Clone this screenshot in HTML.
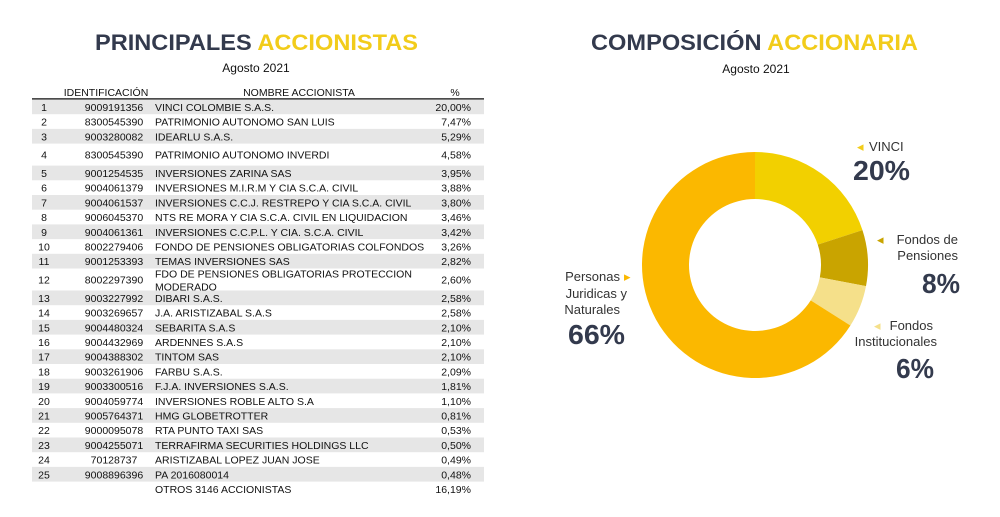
<!DOCTYPE html>
<html><head><meta charset="utf-8"><style>
body{margin:0;background:#fff;width:1000px;height:517px;overflow:hidden;font-family:"Liberation Sans",Arial,sans-serif}
svg{display:block}
</style></head><body>
<svg id="root" width="1000" height="517" viewBox="0 0 1000 517">
<g>
<text x="95" y="50" textLength="323" lengthAdjust="spacingAndGlyphs" font-size="22" font-weight="bold" fill="#333a4d">PRINCIPALES <tspan fill="#f2cc1a">ACCIONISTAS</tspan></text>
<text x="256" y="72" text-anchor="middle" font-size="12" fill="#111">Agosto 2021</text>
</g>
<g>
<text x="591" y="50" textLength="327" lengthAdjust="spacingAndGlyphs" font-size="22" font-weight="bold" fill="#333a4d">COMPOSICIÓN <tspan fill="#f2cc1a">ACCIONARIA</tspan></text>
<text x="756" y="73" text-anchor="middle" font-size="12" fill="#111">Agosto 2021</text>
</g>
<g id="table">
<text x="106" y="96" text-anchor="middle" font-size="10.5" fill="#111">IDENTIFICACIÓN</text>
<text x="299" y="96" text-anchor="middle" font-size="10.5" fill="#111">NOMBRE ACCIONISTA</text>
<text x="455" y="96" text-anchor="middle" font-size="10.5" fill="#111">%</text>
<line x1="32" y1="99" x2="484" y2="99" stroke="#111" stroke-width="1.5"/>
</g>
<g id="donut"></g>
<g fill="#333a4d">
<text x="857" y="151" font-size="13" fill="#f2cc1a">◂</text>
<text x="869" y="151" font-size="13" fill="#333">VINCI</text>
<text x="853" y="180" font-size="28" font-weight="bold" textLength="57" lengthAdjust="spacingAndGlyphs">20%</text>
<text x="877" y="244" font-size="13" fill="#c9a400">◂</text>
<text x="958" y="244" text-anchor="end" font-size="13" fill="#333">Fondos de</text>
<text x="958" y="260" text-anchor="end" font-size="13" fill="#333">Pensiones</text>
<text x="922" y="293" font-size="28" font-weight="bold" textLength="38" lengthAdjust="spacingAndGlyphs">8%</text>
<text x="874" y="330" font-size="13" fill="#f5e08a">◂</text>
<text x="933" y="330" text-anchor="end" font-size="13" fill="#333">Fondos</text>
<text x="937" y="346" text-anchor="end" font-size="13" fill="#333">Institucionales</text>
<text x="896" y="378" font-size="28" font-weight="bold" textLength="38" lengthAdjust="spacingAndGlyphs">6%</text>
<text x="620" y="281" text-anchor="end" font-size="13" fill="#333">Personas</text>
<text x="624" y="281" font-size="13" fill="#fbb800">▸</text>
<text x="627" y="298" text-anchor="end" font-size="13" fill="#333">Juridicas y</text>
<text x="620" y="314" text-anchor="end" font-size="13" fill="#333">Naturales</text>
<text x="568" y="344" font-size="28" font-weight="bold" textLength="57" lengthAdjust="spacingAndGlyphs">66%</text>
</g>
</svg>
<script>
const rowNums=["1","2","3","4","5","6","7","8","9","10","11","12","13","14","15","16","17","18","19","20","21","22","23","24","25",""];
const rowIds=["9009191356","8300545390","9003280082","8300545390","9001254535","9004061379","9004061537","9006045370","9004061361","8002279406","9001253393","8002297390","9003227992","9003269657","9004480324","9004432969","9004388302","9003261906","9003300516","9004059774","9005764371","9000095078","9004255071","70128737","9008896396",""];
const rowNames=["VINCI COLOMBIE S.A.S.","PATRIMONIO AUTONOMO SAN LUIS","IDEARLU S.A.S.","PATRIMONIO AUTONOMO INVERDI","INVERSIONES ZARINA SAS","INVERSIONES M.I.R.M Y CIA S.C.A. CIVIL","INVERSIONES C.C.J. RESTREPO Y CIA S.C.A. CIVIL","NTS RE MORA Y CIA S.C.A. CIVIL EN LIQUIDACION","INVERSIONES C.C.P.L. Y CIA. S.C.A. CIVIL","FONDO DE PENSIONES OBLIGATORIAS COLFONDOS","TEMAS INVERSIONES SAS","FDO DE PENSIONES OBLIGATORIAS PROTECCION|MODERADO","DIBARI S.A.S.","J.A. ARISTIZABAL S.A.S","SEBARITA S.A.S","ARDENNES S.A.S","TINTOM SAS","FARBU S.A.S.","F.J.A. INVERSIONES S.A.S.","INVERSIONES ROBLE ALTO S.A","HMG GLOBETROTTER","RTA PUNTO TAXI SAS","TERRAFIRMA SECURITIES HOLDINGS LLC","ARISTIZABAL LOPEZ JUAN JOSE","PA 2016080014","OTROS 3146 ACCIONISTAS"];
const rowPcts=["20,00%","7,47%","5,29%","4,58%","3,95%","3,88%","3,80%","3,46%","3,42%","3,26%","2,82%","2,60%","2,58%","2,58%","2,10%","2,10%","2,10%","2,09%","1,81%","1,10%","0,81%","0,53%","0,50%","0,49%","0,48%","16,19%"];
const sliceLabels=["VINCI","Fondos de Pensiones","Fondos Institucionales","Personas Juridicas y Naturales"];
const sliceValues=[20,8,6,66];
const sliceColors=["#f2d000","#c9a400","#f5e08a","#fbb800"];
const NS="http://www.w3.org/2000/svg";
function mk(t,a,p){const e=document.createElementNS(NS,t);for(const k in a)e.setAttribute(k,a[k]);p.appendChild(e);return e;}
const tbl=document.getElementById('table');
let y=99.5;
for(let i=0;i<rowNames.length;i++){
  const two=rowNames[i].includes('|')||i===3;
  const h=two?22:14.7;
  const g=mk('g',{},tbl);
  
  
  if(i%2===0&&i<25){mk('rect',{x:32,y:y,width:452,height:h,fill:'#e6e6e6'},g);}
  const cy=y+h/2+4;
  mk('text',{x:44,y:cy,'text-anchor':'middle','font-size':10.5,fill:'#111'},g).textContent=rowNums[i];
  mk('text',{x:114,y:cy,'text-anchor':'middle','font-size':10.5,fill:'#111'},g).textContent=rowIds[i];
  const parts=rowNames[i].split('|');
  if(parts.length>1){
    mk('text',{x:155,y:cy-6,'font-size':10.5,fill:'#111'},g).textContent=parts[0];
    mk('text',{x:155,y:cy+7,'font-size':10.5,fill:'#111'},g).textContent=parts[1];
  }else mk('text',{x:155,y:cy,'font-size':10.5,fill:'#111'},g).textContent=parts[0];
  mk('text',{x:471,y:cy,'text-anchor':'end','font-size':10.5,fill:'#111'},g).textContent=rowPcts[i];
  y+=h;
}
const dg=document.getElementById('donut');
const cx=755,cyy=265,R=113,r=66;
const total=sliceValues.reduce((a,b)=>a+b,0);
let a0=-Math.PI/2;
function pt(rad,a){return [cx+rad*Math.cos(a),cyy+rad*Math.sin(a)];}
sliceValues.forEach((v,i)=>{
  const a1=a0+v/total*2*Math.PI;
  const large=(a1-a0)>Math.PI?1:0;
  const [x0,y0]=pt(R,a0),[x1,y1]=pt(R,a1),[x2,y2]=pt(r,a1),[x3,y3]=pt(r,a0);
  const p=mk('path',{d:`M${x0},${y0}A${R},${R} 0 ${large} 1 ${x1},${y1}L${x2},${y2}A${r},${r} 0 ${large} 0 ${x3},${y3}Z`,fill:sliceColors[i]},dg);
  
  
  a0=a1;
});
</script>
</body></html>
